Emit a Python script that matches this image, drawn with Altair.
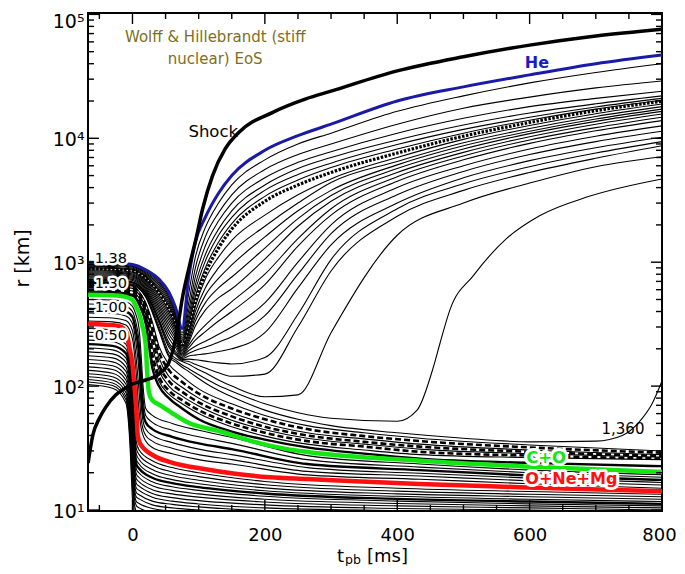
import altair as alt
import pandas as pd

# ---------------- data ----------------
# ejected shells: common time grid (ms) and radii (km)
T_FAN = [-67, -30, 0, 20, 40, 55, 65, 75, 85, 95, 110, 130, 150, 200, 250, 300, 400, 500, 600, 700, 800]
HE_R = [1000, 990, 960, 870, 730, 575, 432, 292, 760, 1450, 2300, 3600, 5000, 8000, 10500, 13000, 20000, 26000, 32500, 40000, 47000]
FAN_R = [
    [975, 968, 940, 845, 700, 540, 405, 270, 560, 1100, 1900, 3000, 4200, 6700, 9000, 11000, 16500, 22000, 28000, 34000, 40000],
    [960, 953, 925, 828, 678, 520, 391, 258, 470, 900, 1600, 2500, 3500, 5600, 7400, 9000, 13000, 17500, 21500, 25500, 29000],
    [945, 938, 910, 811, 656, 500, 377, 247, 410, 760, 1350, 2150, 3000, 4800, 6400, 7800, 11000, 14500, 18000, 21000, 24000],
    [929, 922, 894, 794, 634, 480, 363, 238, 370, 660, 1150, 1850, 2600, 4200, 5700, 7000, 9700, 12800, 16000, 19000, 22000],
    [914, 907, 879, 777, 612, 460, 349, 230, 340, 590, 1020, 1650, 2300, 3800, 5100, 6300, 8900, 11800, 14800, 17900, 21000],
    [899, 892, 864, 760, 590, 440, 336, 222, 315, 530, 900, 1450, 2050, 3400, 4600, 5800, 8200, 11000, 14000, 17200, 20300],
    [884, 877, 849, 743, 568, 420, 322, 215, 295, 480, 810, 1300, 1850, 3100, 4200, 5300, 7600, 10400, 13400, 16700, 19900],
    [868, 861, 833, 726, 546, 400, 309, 209, 278, 440, 730, 1100, 1500, 2400, 3500, 4700, 7000, 9800, 12700, 15800, 18900],
    [853, 846, 818, 709, 524, 380, 296, 203, 262, 400, 620, 900, 1200, 1950, 3000, 4400, 6500, 9200, 12000, 15000, 18000],
    [838, 831, 803, 692, 502, 360, 283, 197, 248, 365, 540, 740, 950, 1600, 2600, 3800, 6100, 8700, 11400, 14300, 17200],
    [823, 816, 788, 675, 480, 340, 270, 192, 236, 335, 470, 620, 760, 1300, 2250, 3450, 5700, 8200, 10900, 13700, 16500],
    [807, 800, 772, 658, 458, 320, 257, 187, 225, 305, 410, 515, 610, 1060, 1950, 3100, 5300, 7700, 10300, 13000, 15700],
    [792, 785, 757, 641, 436, 300, 244, 182, 214, 255, 310, 390, 480, 800, 1550, 2700, 4900, 7200, 9700, 12200, 14800],
    [777, 770, 742, 624, 414, 281, 231, 178, 204, 235, 275, 335, 400, 660, 1350, 2400, 4500, 6700, 9100, 11500, 13900],
    [762, 755, 727, 607, 392, 262, 218, 174, 194, 210, 230, 262, 300, 470, 1000, 2000, 4000, 6000, 8200, 10400, 12600],
    [746, 739, 711, 590, 370, 243, 205, 170, 184, 194, 206, 226, 250, 370, 800, 1700, 3500, 5400, 7400, 9400, 11400],
    [731, 724, 696, 573, 348, 225, 192, 167, 175, 178, 182, 190, 200, 270, 620, 1380, 3000, 4800, 6600, 8400, 10200],
    [724, 717, 689, 565, 337, 215, 185, 164, 165, 163, 159, 154, 151, 170, 380, 1050, 2700, 4300, 5900, 7600, 9400],
    [716, 709, 681, 556, 326, 206, 179, 161, 158, 150, 140, 128, 120, 125, 300, 850, 2350, 3800, 5300, 6900, 8700],
    [700, 693, 665, 540, 305, 188, 168, 158, 150, 140, 128, 112, 100, 82, 85, 270, 1650, 3000, 4350, 5900, 7100],
]
FAN_DOTTED = 6

# late-ejected shell (S-shaped) and the 1,360 shell
T_S = [-67, -30, 0, 20, 40, 55, 65, 75, 85, 95, 110, 130, 150, 200, 250, 300, 400, 430, 455, 465, 480, 515, 565, 615, 690, 800]
R_S = [690, 683, 655, 530, 290, 178, 162, 148, 138, 128, 115, 101, 91, 72, 61, 55, 52, 64, 145, 226, 418, 780, 1550, 2370, 3400, 4700]
T_X = [-67, -30, 0, 20, 40, 55, 65, 75, 85, 95, 110, 130, 150, 200, 250, 300, 400, 500, 600, 700, 740, 765, 785, 800]
R_X = [684, 677, 648, 522, 280, 172, 156, 142, 131, 120, 106, 92, 82, 64, 54, 48, 42, 38, 35.5, 36, 40, 51, 72, 110]

# accreted shells (settle at 22-30 km)
T_ACC = [-67, -30, 0, 10, 20, 30, 40, 55, 75, 100, 150, 200, 264, 350, 434, 600, 800]
ACC_R = [
    [675, 668, 640, 580, 470, 330, 210, 150, 120, 95, 72, 58, 48, 42, 38, 33.5, 30],
    [665, 658, 630, 565, 450, 300, 190, 135, 108, 87, 66, 54, 45, 39.5, 36, 32, 29],
    [650, 643, 615, 548, 420, 270, 170, 120, 98, 80, 61, 50, 42, 37.5, 34, 30.5, 28],
    [635, 628, 600, 530, 400, 240, 150, 110, 90, 74, 57, 47, 40, 35.5, 32.5, 29.5, 27.3],
    [620, 613, 585, 512, 380, 210, 135, 100, 83, 69, 53, 44.5, 38, 34, 31, 28.5, 26.7],
    [600, 594, 567, 492, 360, 180, 120, 92, 77, 64, 50, 42, 36, 32.5, 29.5, 27.5, 26],
    [585, 579, 552, 475, 340, 160, 110, 86, 72, 60, 47, 39.5, 34, 30.5, 28, 26.5, 25.5],
    [570, 564, 537, 458, 320, 140, 100, 80, 66, 54, 43, 37, 32, 28.5, 26, 24, 22.6],
]
ACC_STYLE = ["thin", "dashed", "thin", "dashed", "thin", "dashed", "thin", "thick"]

# C+O (green) and O+Ne+Mg (red) boundaries
T_GREEN = [-67, -30, -10, 0, 5, 10, 15, 20, 22, 25, 30, 40, 57, 83, 133, 184, 234, 264, 434, 585, 800]
R_GREEN = [545, 540, 525, 495, 445, 385, 305, 215, 135, 88, 77, 71, 62, 51, 43, 35.5, 31, 29.4, 25, 22.6, 20.3]
T_RED = [-67, -20, -9, -5, 0, 3, 6, 8, 12, 33, 57, 108, 158, 208, 264, 433, 584, 800]
R_RED = [318, 305, 270, 210, 150, 100, 62, 40, 34, 27.3, 24.4, 21.4, 19.5, 18.4, 17.8, 16.2, 15.3, 14.2]

# shells between green and red
T_MID = [-67, -30, -10, 0, 5, 10, 13, 16, 20, 30, 60, 100, 150, 264, 434, 600, 800]
MID_R = [
    [500, 495, 480, 440, 380, 290, 180, 100, 66, 58, 50, 44, 38.5, 27.5, 23.5, 21, 19.3],
    [460, 455, 440, 400, 330, 230, 140, 80, 58, 51, 44, 39, 34.5, 25.5, 22.2, 20, 18.4],
    [420, 415, 400, 360, 280, 180, 100, 62, 51, 45, 39, 34.5, 31, 23.5, 21, 19, 17.5],
    [390, 385, 368, 320, 230, 130, 72, 52, 45, 40, 35, 31, 28, 22, 19.8, 18.1, 16.7],
    [360, 355, 338, 280, 180, 90, 55, 45, 40, 36, 31.5, 28, 25.5, 20.5, 18.8, 17.2, 15.9],
    [335, 330, 312, 240, 140, 62, 46, 40, 36, 32, 28.5, 25.5, 23.5, 19.2, 17.7, 16.3, 15.0],
]
MID_STYLE = ["thin", "thin", "thick", "thin", "thin", "thin"]

# inner core shells (below red)
T_CORE = [-67, -30, -10, -4, 0, 3, 6, 10, 30, 60, 100, 200, 400, 600, 800]
CORE_R = [
    [292, 285, 255, 185, 120, 55, 35, 30.5, 25, 22, 20, 17, 15, 14.1, 13.4],
    [272, 265, 236, 170, 105, 46, 31, 28, 23, 20.3, 18.6, 16, 14.2, 13.4, 12.8],
    [253, 246, 218, 155, 92, 40, 28, 25.6, 21.2, 18.9, 17.4, 15.1, 13.5, 12.8, 12.2],
    [235, 228, 200, 142, 80, 35, 25.5, 23.5, 19.6, 17.6, 16.3, 14.3, 12.9, 12.2, 11.7],
    [218, 211, 184, 130, 70, 31, 23.2, 21.6, 18.2, 16.5, 15.3, 13.6, 12.3, 11.7, 11.2],
    [203, 196, 169, 118, 61, 27.5, 21.2, 19.9, 16.9, 15.4, 14.4, 12.9, 11.8, 11.2, 10.8],
    [189, 182, 156, 107, 53, 25, 19.4, 18.3, 15.7, 14.4, 13.5, 12.2, 11.3, 10.8, 10.4],
    [176, 169, 143, 96, 46, 22.5, 17.8, 16.9, 14.6, 13.5, 12.7, 11.6, 10.8, 10.4, 10.0],
    [164, 157, 132, 86, 40, 20.3, 16.3, 15.6, 13.6, 12.6, 11.9, 11.0, 10.3, 10.0, 9.7],
    [153, 146, 121, 77, 35, 18.4, 15.0, 14.4, 12.7, 11.8, 11.2, 10.4, 9.9, 9.6, 9.4],
    [143, 136, 112, 69, 31, 16.6, 13.8, 13.3, 11.8, 11.1, 10.6, 9.9, 9.5, 9.2, 9.0],
    [134, 127, 104, 62, 27, 15.0, 12.7, 12.3, 11.0, 10.4, 10.0, 9.4, 9.1, 8.9, 8.7],
    [126, 119, 96, 56, 24, 13.6, 11.7, 11.3, 10.3, 9.8, 9.5, 9.0, 8.7, 8.5, 8.4],
    [119, 112, 89, 50, 21, 12.3, 10.8, 10.4, 9.6, 9.2, 8.9, 8.5, 8.3, 8.2, 8.1],
    [113, 106, 83, 45, 18, 11, 9.8, 9.5, 9.0, 8.7, 8.5, 8.2, 8.0, 7.9, 7.8],
    [108, 101, 78, 40, 15, 9.5, 8.5, 8.2, 7.9, 7.7, 7.6, 7.4, 7.3, 7.2, 7.1],
    [103, 96, 73, 35, 12, 7.5, 6.8, 6.6, 6.4, 6.3, 6.2, 6.1, 6.0, 5.9, 5.8],
]
CORE_STYLE = ["thin"] * 4 + ["thick"] + ["thin"] * 12

# shock
T_SHOCK = [-67, -60, -50, -40, -25, -10, 0, 20, 40, 55, 65, 70, 75, 86, 96, 106, 121, 140, 161, 212, 262, 300, 400, 500, 600, 700, 800]
R_SHOCK = [24, 40, 55, 68, 85, 97, 104, 112, 125, 155, 240, 340, 500, 930, 1550, 2700, 5000, 8200, 11200, 16200, 20800, 24000, 35000, 45500, 56500, 67000, 76000]

# labels
MASS_TEXT = ["1.38", "1.30", "1.00", "0.50"]
MASS_T = [-32.8, -32.8, -32.8, -32.8]
MASS_R = [1062, 667, 427, 254]

# axes
X_LABELS = [0, 200, 400, 600, 800]
X_MINOR = [-50, 50, 100, 150, 250, 300, 350, 450, 500, 550, 650, 700, 750]
Y_LABELS = [10, 100, 1000, 10000, 100000]
Y_MINOR = [m * d for d in [10, 100, 1000, 10000] for m in range(2, 10)]

# ---------------- build table ----------------
rows = []


def add(name, style, ts, rs):
    for t, r in zip(ts, rs):
        rows.append({"line": name, "style": style, "t": t, "r": r})


add("shock", "shock", T_SHOCK, R_SHOCK)
add("he", "he", T_FAN, HE_R)
for i, rr in enumerate(FAN_R):
    add(f"fan{i}", "dotted" if i == FAN_DOTTED else "thin", T_FAN, rr)
add("late", "thin", T_S, R_S)
add("m1360", "thin", T_X, R_X)
for i, rr in enumerate(ACC_R):
    add(f"acc{i}", ACC_STYLE[i], T_ACC, rr)
add("green", "green", T_GREEN, R_GREEN)
add("red", "red", T_RED, R_RED)
for i, rr in enumerate(MID_R):
    add(f"mid{i}", MID_STYLE[i], T_MID, rr)
for i, rr in enumerate(CORE_R):
    add(f"core{i}", CORE_STYLE[i], T_CORE, rr)

df = pd.DataFrame(rows)

W, H = 574, 498
xs = alt.Scale(domain=[-67.2, 800], nice=False, zero=False)
ys = alt.Scale(type="log", domain=[9.82, 102600], nice=False)
FONT = "DejaVu Sans"

X_AXIS = alt.Axis(values=X_LABELS, format="d", title=None, labelFlush=False, labelOverlap=False,
                  labelFontSize=18, labelPadding=15, ticks=False, domain=False, grid=False,
                  labelFont=FONT, labelColor="black",
                  labelOffset={"condition": {"test": "datum.value >= 800", "value": -3}, "value": 0})
Y_AXIS = alt.Axis(values=Y_LABELS,
                  labelExpr="'10' + ['\u2070','\u00b9','\u00b2','\u00b3','\u2074','\u2075'][round(log(datum.value)/LN10)]",
                  title="r [km]", titleFont=FONT, titleFontSize=19, titleFontWeight="normal",
                  titleColor="black", titleX=-66, titleY=245, titleAngle=270, titleAlign="center",
                  titleBaseline="middle", ticks=False, domain=False, grid=False, labelPadding=4,
                  labelFontSize=19, labelFont=FONT, labelColor="black", labelFlush=False,
                  labelOverlap=False,
                  labelOffset={"condition": {"test": "datum.value >= 100000", "value": 7}, "value": 1})


def X(field):
    return alt.X(field, scale=xs, axis=X_AXIS, title=None)


def Y(field):
    return alt.Y(field, scale=ys, axis=Y_AXIS, title="r [km]")


def lines(style, color, width, dash=None):
    mk = dict(color=color, strokeWidth=width, clip=True, interpolate="monotone")
    if dash:
        mk["strokeDash"] = dash
    return alt.Chart(df[df["style"] == style]).mark_line(**mk).encode(
        x=X("t:Q"), y=Y("r:Q"), detail="line:N",
    )


layers = [
    lines("thin", "black", 1.1),
    lines("dashed", "black", 2.6, dash=[6, 3]),
    lines("dotted", "black", 3.2, dash=[2.5, 1.5]),
    lines("thick", "black", 2.4),
    lines("green", "#14e614", 4.5),
    lines("red", "#ff1010", 4.5),
    lines("he", "#1a1aa6", 3),
    lines("shock", "black", 3.5),
]


# inward ticks on all four sides
def yticks(vals, x0, x1):
    return alt.Chart(pd.DataFrame({"r": vals})).mark_rule(color="black", strokeWidth=1.4).encode(
        y=Y("r:Q"), x=alt.value(x0), x2=alt.value(x1))


def xticks(vals, y0, y1):
    return alt.Chart(pd.DataFrame({"t": vals})).mark_rule(color="black", strokeWidth=1.4).encode(
        x=X("t:Q"), y=alt.value(y0), y2=alt.value(y1))


layers += [
    yticks(Y_LABELS, 0, 11), yticks(Y_MINOR, 0, 6),
    yticks(Y_LABELS, W - 11, W), yticks(Y_MINOR, W - 6, W),
    xticks(X_LABELS, H - 11, H), xticks(X_MINOR, H - 6, H),
    xticks(X_LABELS, 0, 11), xticks(X_MINOR, 0, 6),
]


def texts(tt, rr, ss, color, size, weight="normal", halo=0):
    d = pd.DataFrame({"t": tt, "r": rr, "s": ss})
    enc = dict(x=X("t:Q"), y=Y("r:Q"), text="s:N")
    out = []
    if halo:
        out.append(alt.Chart(d).mark_text(font=FONT, fontSize=size, fontWeight=weight, color="white",
                                          stroke="white", strokeWidth=halo, strokeJoin="round",
                                          align="center", baseline="middle").encode(**enc))
    out.append(alt.Chart(d).mark_text(font=FONT, fontSize=size, fontWeight=weight, color=color,
                                      align="center", baseline="middle").encode(**enc))
    return out


layers += texts(MASS_T, MASS_R, MASS_TEXT, "black", 14.5, halo=5)
layers += texts([125], [65800], ["Wolff & Hillebrandt (stiff"], "#7f6e1c", 15)
layers += texts([125], [43600], ["nuclear) EoS"], "#7f6e1c", 15)
layers += texts([122], [11250], ["Shock"], "black", 16.5)
layers += texts([611], [40500], ["He"], "#1a1acc", 16, weight="bold")
layers += texts([741], [45], ["1,360"], "black", 15)
layers += texts([625], [26.5], ["C+O"], "#14e614", 16.5, weight="bold", halo=6)
layers += texts([663], [17.8], ["O+Ne+Mg"], "#ff1010", 16, weight="bold", halo=6)


# x-axis title with subscript
def ptext(s, x, y, size):
    return alt.Chart(pd.DataFrame({"s": [s]})).mark_text(
        font=FONT, fontSize=size, color="black", align="left", baseline="alphabetic"
    ).encode(text="s:N", x=alt.value(x), y=alt.value(y))


layers += [ptext("t", 249, 549, 18), ptext("pb", 257, 551, 12.5), ptext("[ms]", 279, 549, 18)]

chart = alt.layer(*layers).properties(
    width=W, height=H,
    autosize=alt.AutoSizeParams(type="none"),
    padding={"left": 80, "top": 5, "right": 15, "bottom": 55},
    background="white",
).configure_view(stroke="black", strokeWidth=2)

chart.save("out.html", embed_options={"renderer": "svg", "actions": False})
